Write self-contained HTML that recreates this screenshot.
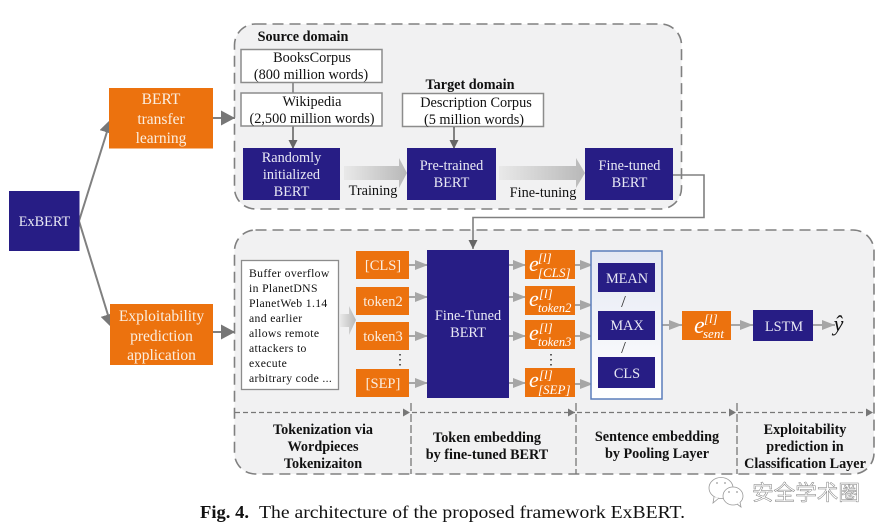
<!DOCTYPE html>
<html><head><meta charset="utf-8">
<style>
html,body{margin:0;padding:0;background:#fff}
svg{display:block}
text{font-family:"Liberation Serif","Noto Serif CJK SC",serif;text-anchor:middle}
.k{font-size:14.3px;fill:#111}
.w{font-size:14.3px;fill:#e8e8f4}
.o{font-size:15.500px;fill:#fbeee0}
.b{font-size:14.2px;font-weight:bold;fill:#111}
.e{font-style:italic;fill:#fff;text-anchor:start}
.e1{font-size:22px}
.e2{font-size:13px}
</style></head><body>
<svg width="889" height="532" viewBox="0 0 889 532" xmlns="http://www.w3.org/2000/svg">
<defs>
<linearGradient id="g" x1="0" x2="1" y1="0" y2="0"><stop offset="0" stop-color="#e9e9e9"/><stop offset="1" stop-color="#b8b8b8"/></linearGradient>
<linearGradient id="bl" x1="0" x2="0" y1="0" y2="1"><stop offset="0" stop-color="#e4e8f3"/><stop offset="1" stop-color="#ffffff"/></linearGradient>
<marker id="a" markerUnits="userSpaceOnUse" markerWidth="15" markerHeight="16" refX="14" refY="7.500" orient="auto"><path d="M0 0L14 7.500L0 15z" fill="#777"/></marker>
<marker id="s" markerUnits="userSpaceOnUse" markerWidth="14" markerHeight="12" refX="13" refY="5" orient="auto"><path d="M0 0L13 5L0 10z" fill="#a6a6a6"/></marker>
<marker id="d" markerUnits="userSpaceOnUse" markerWidth="10" markerHeight="10" refX="9" refY="4.500" orient="auto"><path d="M0 0L9 4.500L0 9z" fill="#666"/></marker>
<marker id="t" markerUnits="userSpaceOnUse" markerWidth="8" markerHeight="10" refX="7" refY="4" orient="auto"><path d="M0 0L7 4L0 8z" fill="#777"/></marker>
</defs>

<!-- panels -->
<rect x="234.500" y="24" width="447" height="185" rx="21" fill="#f1f1f2" stroke="#808080" stroke-width="1.600" stroke-dasharray="11 6"/>
<rect x="234.500" y="230" width="639.500" height="244" rx="21" fill="#f1f1f2" stroke="#808080" stroke-width="1.600" stroke-dasharray="11 6"/>

<!-- left connectors -->
<line x1="79" y1="221" x2="111" y2="119" stroke="#808080" stroke-width="2" marker-end="url(#a)"/>
<line x1="79" y1="221" x2="112" y2="328" stroke="#808080" stroke-width="2" marker-end="url(#a)"/>
<line x1="211" y1="118" x2="235" y2="118" stroke="#808080" stroke-width="2" marker-end="url(#a)"/>
<line x1="211" y1="332" x2="235" y2="332" stroke="#808080" stroke-width="2" marker-end="url(#a)"/>

<rect x="9" y="191" width="70.500" height="60" fill="#271d85"/>
<text class="w" x="44.500" y="226">ExBERT</text>

<rect x="109" y="88" width="104" height="60.500" fill="#ec720e"/>
<text class="o" x="161" y="104">BERT</text>
<text class="o" x="161" y="124">transfer</text>
<text class="o" x="161" y="143">learning</text>

<rect x="110" y="304" width="103" height="61" fill="#ec720e"/>
<text class="o" x="161.500" y="321">Exploitability</text>
<text class="o" x="161.500" y="341">prediction</text>
<text class="o" x="161.500" y="360">application</text>

<!-- source domain -->
<text class="b" x="303" y="41">Source domain</text>
<line x1="293" y1="83" x2="293" y2="93" stroke="#808080" stroke-width="1.600"/>
<line x1="293" y1="126" x2="293" y2="149" stroke="#666" stroke-width="1.600" marker-end="url(#d)"/>
<rect x="241" y="49.500" width="141" height="33" fill="#fff" stroke="#8c8c8c" stroke-width="1.500"/>
<text class="k" x="312" y="62">BooksCorpus</text>
<text class="k" x="311" y="79">(800 million words)</text>
<rect x="241" y="93" width="141" height="33" fill="#fff" stroke="#8c8c8c" stroke-width="1.500"/>
<text class="k" x="312" y="106">Wikipedia</text>
<text class="k" x="312" y="123">(2,500 million words)</text>

<rect x="243" y="148" width="97" height="52" fill="#271d85"/>
<text class="w" x="291.500" y="162">Randomly</text>
<text class="w" x="291.500" y="179">initialized</text>
<text class="w" x="291.500" y="196">BERT</text>

<path d="M344 166H399V158L407 173L399 188V180H344z" fill="url(#g)"/>
<text class="k" x="373" y="195">Training</text>

<text class="b" x="470" y="89">Target domain</text>
<rect x="402.500" y="93.500" width="141" height="33" fill="#fff" stroke="#8c8c8c" stroke-width="1.500"/>
<text class="k" x="476" y="107">Description Corpus</text>
<text class="k" x="474" y="124">(5 million words)</text>
<line x1="454" y1="127" x2="454" y2="149" stroke="#666" stroke-width="1.600" marker-end="url(#d)"/>

<rect x="407" y="148" width="89" height="52" fill="#271d85"/>
<text class="w" x="451.500" y="170">Pre-trained</text>
<text class="w" x="451.500" y="187">BERT</text>

<path d="M499 166H576V158L585 173L576 188V180H499z" fill="url(#g)"/>
<text class="k" x="543" y="197">Fine-tuning</text>

<rect x="585" y="148" width="88" height="52" fill="#271d85"/>
<text class="w" x="629.500" y="170">Fine-tuned</text>
<text class="w" x="629.500" y="187">BERT</text>

<path d="M673 175H704V217.500H473V249" fill="none" stroke="#808080" stroke-width="1.600" marker-end="url(#d)"/>

<!-- text box -->
<rect x="241.500" y="260.500" width="97" height="129" fill="#fff" stroke="#8c8c8c" stroke-width="1.300"/>
<g style="font-size:11.700px;fill:#111;letter-spacing:.35px">
<text x="249" y="277" style="text-anchor:start">Buffer overflow</text>
<text x="249" y="292" style="text-anchor:start">in PlanetDNS</text>
<text x="249" y="307" style="text-anchor:start">PlanetWeb 1.14</text>
<text x="249" y="322" style="text-anchor:start">and earlier</text>
<text x="249" y="337" style="text-anchor:start">allows remote</text>
<text x="249" y="352" style="text-anchor:start">attackers to</text>
<text x="249" y="367" style="text-anchor:start">execute</text>
<text x="249" y="382" style="text-anchor:start">arbitrary code ...</text>
</g>
<path d="M340 314H349V306L356 320L349 335V327H340z" fill="url(#g)"/>

<!-- tokens -->
<g fill="#ec720e">
<rect x="356" y="251" width="53" height="28"/>
<rect x="356" y="287" width="53" height="28"/>
<rect x="356" y="322" width="53" height="28"/>
<rect x="356" y="369" width="53" height="28"/>
</g>
<text class="o" x="383" y="270" style="font-size:14.500px">[CLS]</text>
<text class="o" x="383" y="306" style="font-size:14.500px">token2</text>
<text class="o" x="383" y="341" style="font-size:14.500px">token3</text>
<text class="o" x="383" y="388" style="font-size:14.500px">[SEP]</text>
<text x="400" y="364" style="font-size:14px;fill:#222">⋮</text>

<g stroke="#a6a6a6" stroke-width="2">
<line x1="409" y1="265" x2="428" y2="265" marker-end="url(#s)"/>
<line x1="409" y1="297" x2="428" y2="297" marker-end="url(#s)"/>
<line x1="409" y1="336" x2="428" y2="336" marker-end="url(#s)"/>
<line x1="409" y1="383" x2="428" y2="383" marker-end="url(#s)"/>
<line x1="509" y1="265" x2="526" y2="265" marker-end="url(#s)"/>
<line x1="509" y1="297" x2="526" y2="297" marker-end="url(#s)"/>
<line x1="509" y1="336" x2="526" y2="336" marker-end="url(#s)"/>
<line x1="509" y1="383" x2="526" y2="383" marker-end="url(#s)"/>
<line x1="575" y1="265" x2="593" y2="265" marker-end="url(#s)"/>
<line x1="575" y1="305" x2="593" y2="305" marker-end="url(#s)"/>
<line x1="575" y1="336" x2="593" y2="336" marker-end="url(#s)"/>
<line x1="575" y1="384" x2="593" y2="384" marker-end="url(#s)"/>
<line x1="661" y1="325" x2="682" y2="325" marker-end="url(#s)"/>
<line x1="731" y1="325" x2="753" y2="325" marker-end="url(#s)"/>
<line x1="813" y1="325" x2="835" y2="325" marker-end="url(#s)"/>
</g>

<rect x="427" y="250" width="82" height="148" fill="#271d85"/>
<text class="w" x="468" y="320">Fine-Tuned</text>
<text class="w" x="468" y="337">BERT</text>

<!-- e boxes -->
<g fill="#ec720e">
<rect x="525" y="250" width="50" height="29"/>
<rect x="525" y="286" width="50" height="29"/>
<rect x="525" y="320" width="50" height="29"/>
<rect x="525" y="368" width="50" height="29"/>
<rect x="682" y="311" width="49" height="29"/>
</g>
<text class="e e1" x="529" y="271">e</text><text class="e e2" x="538" y="262">[l]</text><text class="e e2" x="538" y="277">[CLS]</text>
<text class="e e1" x="529" y="306">e</text><text class="e e2" x="539" y="298">[l]</text><text class="e e2" x="538" y="312" style="font-size:12.500px">token2</text>
<text class="e e1" x="529" y="340">e</text><text class="e e2" x="539" y="332">[l]</text><text class="e e2" x="538" y="346" style="font-size:12.500px">token3</text>
<text class="e e1" x="529" y="387">e</text><text class="e e2" x="539" y="379">[l]</text><text class="e e2" x="538" y="394">[SEP]</text>
<text class="e" x="694" y="333" style="font-size:24px">e</text><text class="e e2" x="704" y="323">[l]</text><text class="e e2" x="703" y="338">sent</text>
<text x="551" y="364" style="font-size:14px;fill:#222">⋮</text>

<!-- pooling -->
<rect x="591" y="251" width="71" height="148" fill="url(#bl)" stroke="#5b7dbb" stroke-width="1.500"/>
<rect x="598" y="263" width="57" height="29" fill="#271d85"/>
<rect x="598" y="311" width="57" height="29" fill="#271d85"/>
<rect x="598" y="357" width="57" height="31" fill="#271d85"/>
<text class="w" x="627" y="283">MEAN</text>
<text class="w" x="627" y="330">MAX</text>
<text class="w" x="627" y="378">CLS</text>
<text x="623.500" y="307" style="font-size:17px;fill:#333">/</text>
<text x="623.500" y="353" style="font-size:17px;fill:#333">/</text>

<rect x="753" y="310" width="60" height="31" fill="#271d85"/>
<text class="w" x="784" y="331">LSTM</text>
<text x="838.500" y="331" style="font-size:22px;font-style:italic;fill:#111">ŷ</text>

<!-- stage lines -->
<g stroke="#777" stroke-width="1.300" fill="none">
<g stroke-dasharray="5 3">
<line x1="235" y1="412.500" x2="410" y2="412.500" marker-end="url(#t)"/>
<line x1="412" y1="412.500" x2="575" y2="412.500" marker-end="url(#t)"/>
<line x1="577" y1="412.500" x2="736" y2="412.500" marker-end="url(#t)"/>
<line x1="738" y1="412.500" x2="873" y2="412.500" marker-end="url(#t)"/>
</g>
<g stroke-dasharray="8 3">
<line x1="411" y1="403" x2="411" y2="474"/>
<line x1="576" y1="403" x2="576" y2="474"/>
<line x1="737" y1="403" x2="737" y2="474"/>
</g>
</g>
<g style="font-size:14.200px;font-weight:bold;fill:#111">
<text x="323" y="434">Tokenization via</text>
<text x="323" y="451">Wordpieces</text>
<text x="323" y="468">Tokenizaiton</text>
<text x="487" y="442">Token embedding</text>
<text x="487" y="459">by fine-tuned BERT</text>
<text x="657" y="441">Sentence embedding</text>
<text x="657" y="458">by Pooling Layer</text>
<text x="805" y="434">Exploitability</text>
<text x="805" y="451">prediction in</text>
<text x="805" y="468">Classification Layer</text>
</g>

<!-- watermark -->
<g fill="#fff" stroke="#9a9a9a" stroke-width=".8">
<ellipse cx="721" cy="488" rx="12" ry="10.500"/>
<path d="M714 497L713 503L719 498" />
<ellipse cx="733" cy="496" rx="10" ry="9"/>
<path d="M737 504L741 507L740 502" />
</g>
<g fill="#999"><circle cx="717" cy="483" r=".9"/><circle cx="725" cy="483" r=".9"/><circle cx="729" cy="492" r=".9"/><circle cx="737" cy="492" r=".9"/></g>
<text x="806" y="500" style="font-size:21px;fill:#fff;stroke:#808080;stroke-width:.5px;font-family:'Noto Sans CJK SC',sans-serif" textLength="108" lengthAdjust="spacingAndGlyphs">安全学术圈</text>

<!-- caption -->
<text x="200" y="518" style="text-anchor:start;font-size:18px;font-weight:bold;fill:#111" textLength="49" lengthAdjust="spacingAndGlyphs">Fig. 4.</text>
<text x="259" y="518" style="text-anchor:start;font-size:18px;fill:#111" textLength="426" lengthAdjust="spacingAndGlyphs">The architecture of the proposed framework ExBERT.</text>
</svg>
</body></html>
